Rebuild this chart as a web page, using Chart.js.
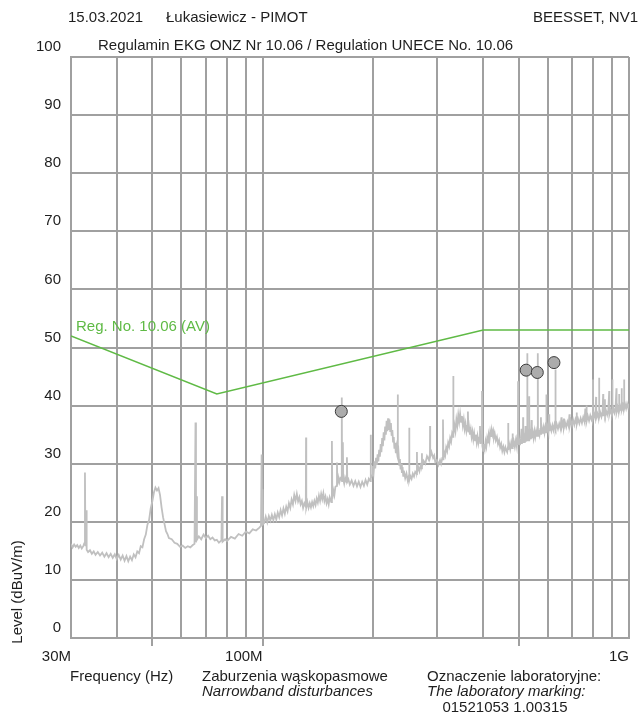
<!DOCTYPE html>
<html>
<head>
<meta charset="utf-8">
<script src="https://cdn.jsdelivr.net/npm/chart.js@4.4.1/dist/chart.umd.min.js"></script>
<style>
  html, body { margin: 0; padding: 0; background: #ffffff; }
  #wrap { width: 639px; height: 717px; position: relative; }
</style>
</head>
<body>
<div id="wrap"><canvas id="c" width="639" height="717"></canvas></div>
<script>
// Frequency grid (MHz) and the labelled ticks
const xGridValues = [30, 40, 50, 60, 70, 80, 90, 100, 200, 300, 400, 500, 600, 700, 800, 900, 1000];
const xLabelValues = [30, 100, 1000];
const xLabelTexts = ['30M', '100M', '1G'];
const xMarkValues = [50, 100, 500];
const yTickStep = 10;
const yMin = 0;
const yMax = 100;

// Limit line Reg. No. 10.06 (AV): frequency (MHz), level (dBuV/m)
const limitFreq = [30, 75, 400, 1000];
const limitLevel = [52, 42, 53, 53];

// Measured peaks (circles)
const peakFreq = [164, 524, 562, 624];
const peakLevel = [39.0, 46.1, 45.7, 47.4];

// Measured spectrum, 30 - 100 MHz: [frequency MHz, level dBuV/m]
const spectrumLow = [
  [30.0,16.2],[30.3,15.6],[30.6,16.1],[30.9,15.7],[31.2,16.0],[31.5,15.5],[31.8,15.9],[32.1,15.4],[32.4,15.8],[32.6,16.3],
  [32.75,28.5],[32.85,15.8],[33.0,22.0],[33.1,15.2],[33.4,14.8],[33.8,15.1],[34.2,14.5],[34.6,14.9],[35.0,14.3],[35.5,14.8],
  [36.0,14.2],[36.5,14.7],[37.0,14.0],[37.5,14.6],[38.0,13.9],[38.5,14.5],[39.0,13.8],[39.5,14.4],[40.0,13.6],[40.5,14.3],
  [41.0,13.5],[41.5,14.2],[42.0,13.3],[42.5,14.1],[43.0,13.2],[43.5,14.0],[44.0,13.4],[44.5,14.4],[45.0,13.9],[45.5,14.9],
  [46.0,14.6],[46.5,15.8],[47.0,15.6],[47.5,17.0],[48.0,17.8],[48.5,19.5],[49.0,20.3],[49.5,22.3],[50.0,23.5],[50.5,25.0],
  [51.0,25.9],[51.5,25.4],[52.0,25.8],[52.5,24.6],[53.0,22.5],[53.5,20.8],[54.0,19.6],[54.5,18.4],[55.0,17.9],[55.5,17.2],
  [56.5,17.0],[57.5,16.4],[58.5,16.2],[59.5,15.7],[60.5,15.9],[61.5,15.5],[62.5,15.8],[63.5,15.6],[64.5,16.0],[65.2,16.2],
  [65.6,37.1],[65.8,16.5],[66.0,24.4],[66.2,16.9],[67.0,17.5],[68.0,17.0],[69.0,17.8],[70.0,17.2],[71.0,17.6],[72.0,17.0],
  [73.0,17.3],[74.0,16.8],[75.0,16.9],[76.0,16.4],[77.2,16.8],[77.5,24.4],[77.8,16.6],[79.0,17.0],[80.0,16.7],[82.0,17.4],
  [84.0,17.1],[86.0,17.9],[88.0,17.6],[90.0,18.3],[92.0,18.0],[94.0,18.7],[96.0,18.5],[98.0,19.0],[99.0,19.3],[99.4,31.6],
  [99.7,19.5],[100.0,25.6],[100.3,19.6]
];

// Measured spectrum, 100 - 300 MHz
const spectrumMid = [
  [101,19.8],[102,20.9],[103,19.9],[104,21.0],[105,20.2],[106,21.2],[107,20.3],[108,21.3],[109,20.4],[110,21.6],
  [111,20.8],[112,22.0],[113,21.1],[114,22.3],[115,21.4],[116,22.6],[117,21.8],[118,23.2],[119,22.4],[120,23.8],
  [121,23.0],[122,24.6],[123,23.6],[124,24.8],[125,23.5],[126,24.2],[127,23.0],[128,23.6],[129,22.4],[130,23.2],
  [131.2,22.6],[131.4,34.5],[131.6,22.5],[132.5,23.4],[133.5,22.4],[134.5,23.2],[135.5,22.5],[136.5,23.4],[137.5,22.7],[138.5,23.6],
  [139.5,22.9],[140.5,24.0],[141.5,23.3],[142.5,24.5],[143.5,23.6],[144.5,24.8],[145.5,23.9],[146.5,24.9],[147.5,23.6],[148.5,24.3],
  [149.5,23.2],[150.5,23.9],[151.5,23.0],[152.5,24.2],[154.0,23.4],[154.6,33.9],[155.0,24.0],[156,25.4],[157,24.6],[158,26.0],
  [159.2,26.2],[159.6,30.2],[160,26.4],[161,27.6],[162,26.8],[163,27.5],[164.2,27.2],[164.5,41.4],[164.8,27.0],[165.6,33.7],
  [166,27.4],[167,26.6],[168,27.6],[169.5,26.8],[169.9,31.1],[170.3,26.9],[171.5,27.3],[173,26.4],[175,27.1],[177,26.2],
  [179,27.0],[181,26.1],[183,26.9],[185,26.0],[187,26.9],[189,26.2],[191,27.2],[193,26.4],[195,27.4],[196.8,27.0],
  [197.2,35.0],[197.6,27.5],[199,28.0],[200,29.6],[201,28.6],[202,30.4],[203,29.2],[204,31.0],[205,29.8],[206,31.6],
  [207,30.4],[208,32.4],[209,31.2],[210,33.4],[211,32.0],[212,34.4],[213,33.0],[214,35.4],[215,34.0],[216,36.4],
  [217,35.0],[218,37.4],[219,35.6],[220,37.8],[221,35.8],[222,37.6],[223,35.6],[224,37.0],[225,34.8],[226,35.8],
  [227,33.8],[228,34.6],[229,32.6],[230,33.6],[231,31.8],[232,32.8],[233.5,31.2],[233.8,41.9],[234.1,31.0],[235,31.8],
  [236,29.8],[237,30.8],[238,29.0],[239,30.0],[240,28.4],[241,29.4],[242,27.9],[243,28.8],[245,27.5],[247,28.3],
  [249,27.1],[251,28.0],[251.3,36.2],[251.6,27.2],[253,27.9],[255,27.4],[257,28.3],[259,27.8],[261,28.6],[263.6,28.2],
  [263.8,32.0],[264.1,28.6],[266,29.4],[268,28.7],[270,29.7],[272,29.2],[272.2,31.8],[272.5,29.6],[275,30.5],[278,30.0],
  [281,31.3],[284,30.7],[286.2,31.6],[286.4,36.5],[286.7,31.2],[289,32.0],[292,31.0],[294,31.4],[296,30.3],[299,30.6]
];

// Measured spectrum, 300 MHz - 1 GHz
const spectrumHigh = [
  [302,29.8],[305,30.6],[307,30.0],[309.5,31.0],[310.7,37.6],[311.5,30.6],[313,32.0],[315,31.4],[317,32.8],[319,32.2],
  [321,33.6],[323,33.0],[325,34.4],[327,33.8],[329,35.2],[331.2,34.6],[331.5,45.1],[331.8,35.0],[334,36.6],[336,35.6],
  [338,37.6],[340,36.6],[342,38.4],[344,37.2],[346,38.6],[348,37.2],[350,38.2],[352,36.6],[354,37.6],[356,36.0],
  [358,36.9],[360,35.6],[362,36.5],[363.4,39.0],[364.5,35.4],[366,36.3],[368,35.0],[370,35.9],[372,34.6],[374,35.5],
  [376,34.2],[378,35.2],[380,34.0],[382,35.0],[384,33.7],[386,34.7],[388,33.6],[390,34.5],[392,36.5],[393,33.4],
  [395,34.2],[397,42.5],[398,33.0],[400,32.2],[402,33.4],[404,32.6],[406,33.8],[408,33.0],[410,34.3],[412,33.5],
  [414,34.9],[416,34.0],[418,35.4],[420,34.6],[422,35.8],[424,35.0],[426,35.6],[428,34.6],[430,35.2],[433,34.0],
  [436,34.6],[439,33.4],[442,34.0],[445,32.8],[448,33.4],[451,32.2],[454,32.9],[457,32.0],[460,32.8],[462,32.4],
  [465,32.0],[467.5,32.9],[468,37.0],[468.5,32.4],[471,33.4],[474,32.5],[477,33.6],[480,32.7],[481,35.2],[482,32.8],
  [485,33.8],[488,32.9],[491,34.0],[494,33.0],[496,35.0],[497.5,33.2],[498,44.2],[498.5,33.4],[501,34.2],[504,33.2],
  [507,34.4],[509,36.0],[510,33.4],[513.5,34.4],[514,38.0],[514.5,33.6],[517,34.6],[520,33.6],[522,36.5],[523,33.8],
  [525,34.8],[527.2,34.0],[527.7,49.0],[528.2,34.0],[531,35.0],[533.5,34.0],[534,41.6],[534.5,34.2],[537,35.2],[540,34.2],
  [542,37.5],[543,34.4],[546,35.4],[549,34.4],[552,35.6],[555,34.6],[558,35.6],[561,34.8],[563.5,35.4],[564,49.0],
  [564.5,34.8],[567,35.8],[570,35.0],[573,36.0],[575,38.0],[576,35.0],[579,36.0],[582,35.2],[585,36.2],[588,35.3],
  [591,36.3],[594.5,35.4],[595,41.9],[595.5,35.4],[599,36.4],[603,35.5],[605,38.5],[606,35.6],[610,36.5],[614,35.7],
  [618,36.6],[622,35.8],[626,36.7],[629.5,36.0],[630,46.2],[630.5,35.9],[635,36.8],[640,36.0],[645,36.9],[650,36.1],
  [654,38.0],[655,36.2],[660,37.0],[663.5,36.2],[664,37.8],[664.5,36.2],[669,37.1],[674,36.3],[679,37.2],[684,36.5],
  [688,38.5],[689,36.5],[694,37.4],[699,36.6],[704,37.5],[709,36.7],[714,37.6],[719.5,36.8],[720,38.8],[720.5,36.8],
  [726,37.7],[732,36.9],[738,37.8],[744,37.0],[750,38.0],[756,37.2],[760,39.5],[761,37.2],[765.5,38.0],[766,40.0],
  [766.5,37.3],[772,38.2],[778,37.4],[784,38.3],[790,37.6],[796.5,38.4],[797,44.5],[797.5,37.7],[803,38.5],[809,37.8],
  [813,41.5],[814,37.9],[820,38.6],[825,37.9],[828.5,38.7],[829,44.8],[829.5,38.0],[835,38.8],[841,38.1],[847,39.0],
  [850,42.0],[851,38.2],[855,39.0],[859.5,38.3],[860,41.1],[860.5,38.3],[866,39.1],[872,38.4],[878,39.2],[883,42.5],
  [884,38.5],[890,39.3],[896,38.6],[900.5,39.3],[901,44.5],[901.5,38.7],[907,39.5],[913,38.8],[919,39.6],[924,43.0],
  [925,38.9],[931,39.7],[936,39.0],[939.5,39.7],[940,42.0],[940.5,39.1],[946,39.9],[952,39.2],[955,43.0],[956,39.3],
  [962,40.0],[966,39.4],[969.5,40.0],[970,44.5],[970.5,39.5],[976,40.2],[982,39.5],[988,40.3],[994,39.7],[1000,40.3]
];

const toPoints = (rows) => rows.map(([f, v]) => ({ x: f, y: v }));
const traceData = toPoints(spectrumLow.concat(spectrumMid, spectrumHigh));
const limitData = limitFreq.map((f, i) => ({ x: f, y: limitLevel[i] }));
const peakData = peakFreq.map((f, i) => ({ x: f, y: peakLevel[i] }));

const FONT = "'Liberation Sans', Arial, sans-serif";
const GRID = '#a0a0a0';
const TEXT = '#1e1e1e';
const GREEN = '#5fba45';

// Header, footer and axis title text
const captions = {
  id: 'captions',
  afterDraw(chart) {
    const ctx = chart.ctx;
    ctx.save();
    ctx.fillStyle = TEXT;
    ctx.textBaseline = 'middle';
    ctx.font = '15px ' + FONT;
    ctx.textAlign = 'left';
    ctx.fillText('15.03.2021', 68, 18);
    ctx.fillText('\u0141ukasiewicz - PIMOT', 166, 18);
    ctx.textAlign = 'right';
    ctx.fillText('BEESSET, NV1', 638, 18);
    ctx.textAlign = 'left';
    ctx.fillText('Regulamin EKG ONZ Nr 10.06 / Regulation UNECE No. 10.06', 98, 46);

    ctx.fillText('Frequency (Hz)', 70, 677);
    ctx.fillText('Zaburzenia w\u0105skopasmowe', 202, 677);
    ctx.fillText('Oznaczenie laboratoryjne:', 427, 677);
    ctx.font = 'italic 15px ' + FONT;
    ctx.fillText('Narrowband disturbances', 202, 692);
    ctx.fillText('The laboratory marking:', 427, 692);
    ctx.font = '15px ' + FONT;
    ctx.textAlign = 'center';
    ctx.fillText('01521053 1.00315', 505, 708);

    // limit line caption
    ctx.fillStyle = GREEN;
    ctx.textAlign = 'left';
    ctx.fillText('Reg. No. 10.06 (AV)', 76, 327);

    // y axis title
    ctx.fillStyle = TEXT;
    ctx.translate(18, 592);
    ctx.rotate(-Math.PI / 2);
    ctx.textAlign = 'center';
    ctx.fillText('Level (dBuV/m)', 0, 0);
    ctx.restore();
  }
};

new Chart(document.getElementById('c'), {
  type: 'line',
  data: {
    datasets: [
      {
        label: 'Peaks',
        data: peakData,
        showLine: false,
        pointRadius: 6,
        pointBackgroundColor: '#acacac',
        pointBorderColor: '#3c3c3c',
        pointBorderWidth: 1,
        order: 0
      },
      {
        label: 'Reg. No. 10.06 (AV)',
        data: limitData,
        borderColor: GREEN,
        borderWidth: 1.6,
        pointRadius: 0,
        tension: 0,
        order: 1
      },
      {
        label: 'Level',
        data: traceData,
        borderColor: '#c0c0c0',
        borderWidth: 1.8,
        pointRadius: 0,
        tension: 0,
        order: 2
      }
    ]
  },
  options: {
    responsive: false,
    animation: false,
    events: [],
    layout: { padding: { top: 57, right: 10, bottom: 0, left: 0 } },
    plugins: { legend: { display: false }, tooltip: { enabled: false }, title: { display: false } },
    scales: {
      x: {
        type: 'logarithmic',
        min: xGridValues[0],
        max: xGridValues[xGridValues.length - 1],
        afterBuildTicks: (scale) => { scale.ticks = xGridValues.map(v => ({ value: v })); },
        afterFit: (scale) => { scale.height = 79; },
        border: { display: true, color: GRID, width: 2 },
        grid: {
          color: GRID,
          lineWidth: 2,
          drawTicks: true,
          tickLength: 8,
          tickColor: (ctx) => (ctx.tick && xMarkValues.includes(ctx.tick.value)) ? GRID : 'rgba(0,0,0,0)'
        },
        ticks: {
          autoSkip: false,
          maxRotation: 0,
          align: 'end',
          padding: 2,
          color: TEXT,
          font: { family: FONT, size: 15 },
          callback: (value) => {
            const i = xLabelValues.indexOf(Number(value));
            return i >= 0 ? xLabelTexts[i] : '';
          }
        }
      },
      y: {
        type: 'linear',
        min: yMin,
        max: yMax,
        afterFit: (scale) => { scale.width = 71; },
        border: { display: true, color: GRID, width: 2 },
        grid: { color: GRID, lineWidth: 2, drawTicks: false },
        ticks: {
          stepSize: yTickStep,
          padding: 10,
          labelOffset: -10,
          color: TEXT,
          font: { family: FONT, size: 15 }
        }
      }
    }
  },
  plugins: [captions]
});
</script>
</body>
</html>
